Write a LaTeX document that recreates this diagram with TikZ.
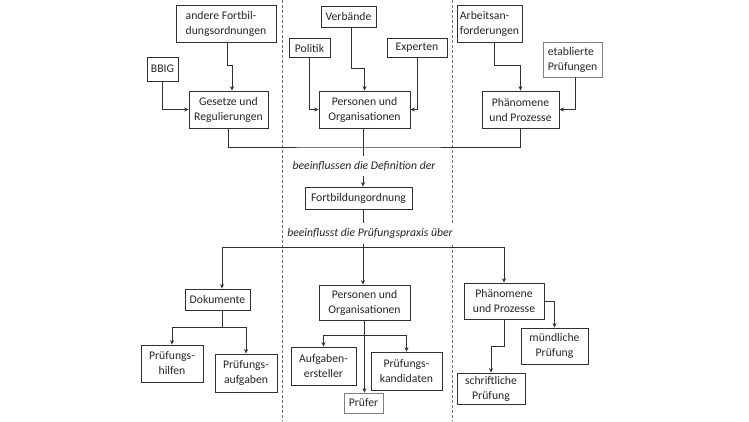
\documentclass[tikz,border=0pt]{standalone}
\usepackage{fontspec}
\setmainfont{Carlito}
\usetikzlibrary{arrows.meta}
\definecolor{boxc}{HTML}{303030}
\definecolor{lboxc}{HTML}{808080}
\definecolor{linec}{HTML}{303030}
\definecolor{txtc}{HTML}{262626}
\definecolor{dashc}{HTML}{707070}
\begin{document}
\begin{tikzpicture}[x=1pt,y=-1pt,
  box/.style={draw=boxc, line width=0.8pt, inner sep=0pt, align=center,
    text=txtc, font=\fontsize{11.7}{15}\selectfont, fill=white},
  lbox/.style={box, draw=lboxc},
  conn/.style={draw=linec, line width=0.8pt},
  arr/.style={conn, -{Stealth[length=4.5pt,width=4pt]}},
  sep/.style={draw=dashc, line width=0.7pt, dash pattern=on 3pt off 2pt},
  lbl/.style={font=\fontsize{11.7}{15}\selectfont\itshape, text=txtc, inner xsep=3pt, fill=white}
]
\useasboundingbox (0,0) rectangle (749,421);

% separators
\draw[sep] (282,0) -- (282,421);
\draw[sep] (452,0) -- (452,421);

% top row
\node[box, minimum width=100pt, minimum height=37pt, align=left] (andere) at (226,23.5) {andere Fortbil-\\dungsordnungen};
\node[box, minimum width=31pt, minimum height=24pt] (bbig) at (162.5,69) {BBIG};
\node[box, minimum width=79pt, minimum height=37pt] (gesetze) at (228.5,109.5) {Gesetze und\\Regulierungen};

\node[box, minimum width=55pt, minimum height=21pt] (verb) at (348.5,16.5) {Verbände};
\node[box, minimum width=41pt, minimum height=19pt] (politik) at (309.5,48) {Politik};
\node[box, minimum width=60pt, minimum height=19pt] (experten) at (417,48) {Experten};
\node[box, minimum width=91pt, minimum height=37pt] (pers1) at (364.5,109.5) {Personen und\\Organisationen};

\node[box, minimum width=65pt, minimum height=37pt, align=left] (arbeit) at (489.5,23.5) {Arbeitsan-\\forderungen};
\node[lbox, minimum width=59pt, minimum height=35pt, align=left] (etabl) at (572.5,59.5) {etablierte\\Prüfungen};
\node[box, minimum width=77pt, minimum height=37pt] (phaen1) at (520.5,109.5) {Phänomene\\und Prozesse};

% middle
\node[box, minimum width=107pt, minimum height=22pt] (fortb) at (358.5,198) {Fortbildungordnung};
\node[lbl, inner ysep=5.5pt] (t1) at (364,166) {beeinflussen die Definition der};
\node[lbl, inner ysep=5.5pt] (t2) at (370,233.5) {beeinflusst die Prüfungspraxis über};

% bottom row
\node[box, minimum width=65pt, minimum height=21pt] (doku) at (217.5,299.5) {Dokumente};
\node[box, minimum width=62pt, minimum height=37pt] (hilfen) at (172,363.5) {Prüfungs-\\hilfen};
\node[box, minimum width=62pt, minimum height=38pt] (aufg) at (246,373) {Prüfungs-\\aufgaben};

\node[box, minimum width=91pt, minimum height=35pt] (pers2) at (364.5,302.5) {Personen und\\Organisationen};
\node[box, minimum width=65pt, minimum height=38pt] (erst) at (323.5,366) {Aufgaben-\\ersteller};
\node[box, minimum width=71pt, minimum height=38pt] (kand) at (406.5,371) {Prüfungs-\\kandidaten};
\node[lbox, minimum width=39pt, minimum height=20pt] (pruefer) at (363.5,403) {Prüfer};

\node[box, minimum width=80pt, minimum height=36pt] (phaen2) at (504,301) {Phänomene\\und Prozesse};
\node[box, minimum width=67pt, minimum height=36pt] (muendl) at (554.5,346) {mündliche\\Prüfung};
\node[box, minimum width=68pt, minimum height=31pt] (schr) at (491,388.5) {schriftliche\\Prüfung};

% top connectors
\draw[arr] ([xshift=1pt]andere.south) -- ++(0,23) -| ([xshift=3.5pt]gesetze.north);
\draw[arr] (bbig.south) |- (gesetze.west);
\draw[arr] ([xshift=3pt]verb.south) -- ++(0,41) -| (pers1.north);
\draw[arr] (politik.south) |- (pers1.west);
\draw[arr] (experten.south) |- (pers1.east);
\draw[arr] ([xshift=4.5pt]arbeit.south) -- ++(0,23) -| (phaen1.north);
\draw[arr] ([xshift=2.5pt]etabl.south) |- (phaen1.east);

\coordinate (j1) at (363,147);
\draw[conn] (gesetze.south) |- (j1) -| (phaen1.south);
\draw[conn] (pers1.south -| j1) -- (t1.north -| j1);
\draw[arr] (t1.south -| j1) -- (fortb.north -| j1);
\draw[conn] (fortb.south -| j1) -- (t2.north -| j1);

\coordinate (j2) at (363,247);
\draw[conn] (t2.south -| j2) -- (j2);
\draw[arr] (j2) -| ([xshift=4.5pt]doku.north);
\draw[arr] (j2) -| (phaen2.north);
\draw[arr] (j2) -- (pers2.north -| j2);

% bottom connectors
\coordinate (j3) at (222,327);
\draw[conn] ([xshift=4.5pt]doku.south) -- (j3);
\draw[arr] (j3) -| (hilfen.north);
\draw[arr] (j3) -| (aufg.north);

\coordinate (j4) at (364.5,335);
\draw[arr] (pers2.south) -- (pers2.south |- pruefer.north);
\draw[arr] (j4) -| (erst.north);
\draw[arr] (j4) -| (kand.north);

\draw[arr] (phaen2.east) -| (muendl.north);
\draw[arr] (phaen2.south) -- ++(0,27) -| (schr.north);
\end{tikzpicture}
\end{document}
